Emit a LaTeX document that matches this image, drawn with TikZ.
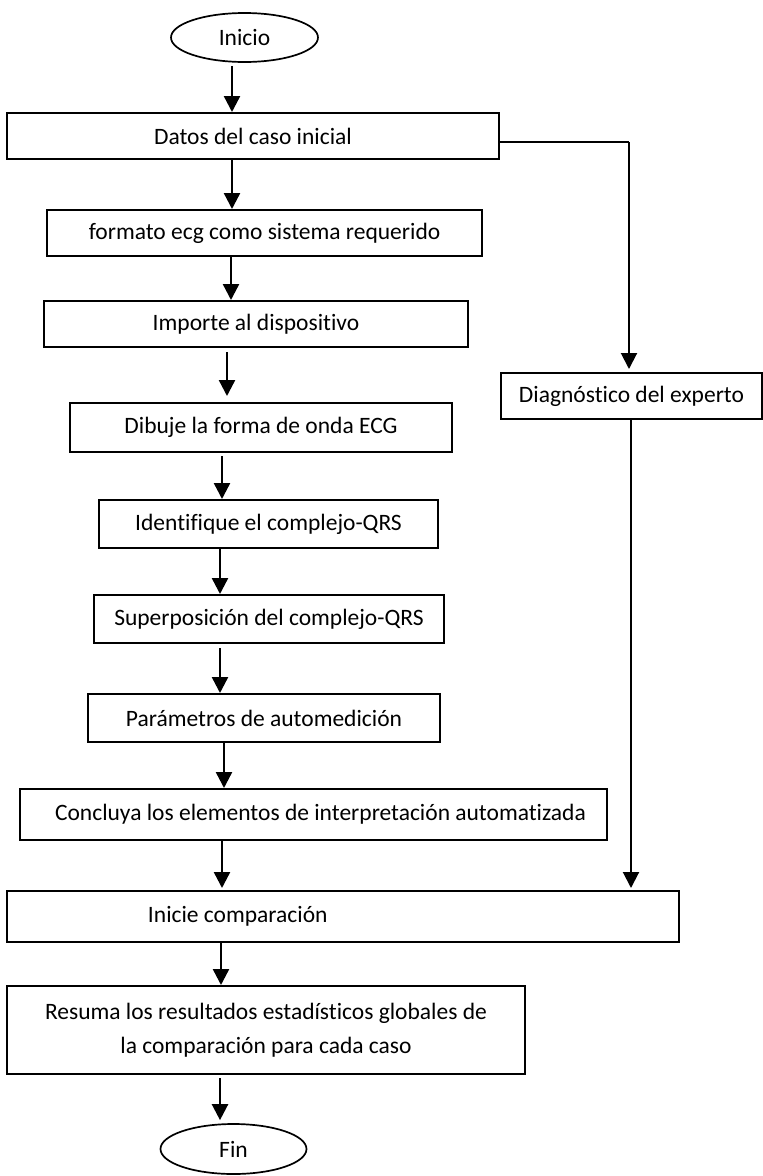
\documentclass[tikz,border=0pt]{standalone}
\usepackage{fontspec}
\setmainfont{Carlito}[Ligatures=NoCommon]
\usetikzlibrary{arrows.meta,shapes.geometric,calc}
\begin{document}
\begin{tikzpicture}[x=1pt,y=-1pt,
  box/.style={draw,line width=2pt,inner sep=0pt,font=\fontsize{23.5}{34}\selectfont},
  oval/.style={draw,ellipse,line width=1.7pt,inner sep=0pt,font=\fontsize{23.5}{28}\selectfont},
  arr/.style={line width=2.4pt,-{Triangle[width=16pt,length=16pt]}},
  link/.style={line width=1.5pt}]
\useasboundingbox (0,0) rectangle (763,1176);
\node[oval, minimum width=147pt, minimum height=49pt] (inicio) at (244.5,37.5) {Inicio};
\node[box, minimum width=492pt, minimum height=46pt] (datos) at (253,136) {Datos del caso inicial};
\node[box, minimum width=435pt, minimum height=46pt] (formato) at (264.5,233) {formato ecg como sistema requerido\hspace{19pt}};
\node[box, minimum width=424pt, minimum height=46pt] (importe) at (256,324) {Importe al dispositivo};
\node[box, minimum width=382pt, minimum height=49pt] (dibuje) at (261,427.5) {Dibuje la forma de onda ECG};
\node[box, minimum width=339pt, minimum height=48pt] (ident) at (268.5,524) {Identifique el complejo-QRS};
\node[box, minimum width=350pt, minimum height=48pt] (super) at (269,619) {Superposición del complejo-QRS};
\node[box, minimum width=352pt, minimum height=48pt] (param) at (264,718) {Parámetros de automedición\hspace{14pt}};
\node[box, minimum width=587pt, minimum height=51pt] (concl) at (313.5,814.5) {\hspace{14pt}Concluya los elementos de interpretación automatizada};
\node[box, minimum width=672pt, minimum height=51pt] (inicie) at (343,916.5) {\makebox[672pt][l]{\hspace{141pt}Inicie comparación}};
\node[box, minimum width=518pt, minimum height=88pt, align=center] (resuma) at (266,1030) {Resuma los resultados estadísticos globales de\\la comparación para cada caso};
\node[oval, minimum width=146pt, minimum height=50pt] (fin) at (233.5,1149) {Fin};
\node[box, minimum width=261pt, minimum height=46pt] (diag) at (631.5,396) {Diagnóstico del experto};

\draw[arr, shorten <=3pt] (inicio.south -| 232,0) -- (datos.north -| 232,0);
\draw[arr] (datos.south -| 232,0) -- (formato.north -| 232,0);
\draw[arr] (formato.south -| 231,0) -- (importe.north -| 231,0);
\draw[arr, shorten <=4pt, shorten >=6pt] (importe.south -| 227,0) -- (dibuje.north -| 227,0);
\draw[arr, shorten <=3pt] (dibuje.south -| 222,0) -- (ident.north -| 222,0);
\draw[arr] (ident.south -| 220,0) -- (super.north -| 220,0);
\draw[arr, shorten <=4pt] (super.south -| 220,0) -- (param.north -| 220,0);
\draw[arr] (param.south -| 224,0) -- (concl.north -| 224,0);
\draw[arr, shorten >=2pt] (concl.south -| 222,0) -- (inicie.north -| 222,0);
\draw[arr] (inicie.south -| 221,0) -- (resuma.north -| 221,0);
\draw[arr, shorten <=3pt, shorten >=3pt] (resuma.south -| 220,0) -- (fin.north -| 220,0);

\draw[link] ($(datos.east)+(0,6)$) -- ($(629,0 |- datos.east)+(0,6)$);
\draw[arr, line width=2pt, shorten >=3pt] ($(629,0 |- datos.east)+(0,6)$) -- (diag.north -| 629,0);
\draw[arr, line width=2pt, shorten >=2pt] (diag.south -| 631,0) -- (inicie.north -| 631,0);
\end{tikzpicture}
\end{document}
